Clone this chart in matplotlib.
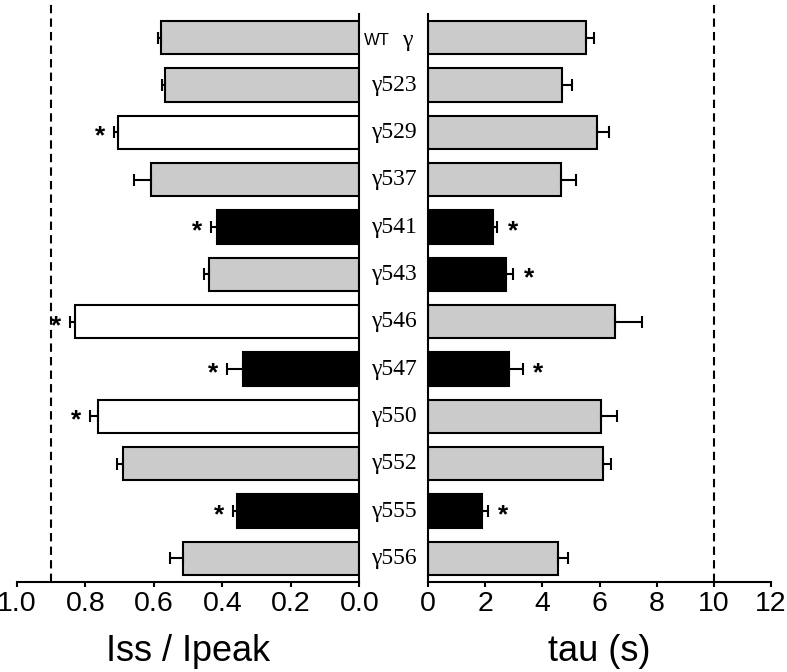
"""Iss/Ipeak and tau for gamma-subunit mutants, as mirrored bar charts."""

import matplotlib
import matplotlib.pyplot as plt
import matplotlib.transforms as mtransforms

matplotlib.use("Agg")

plt.rcParams["font.family"] = ["Liberation Sans", "DejaVu Sans"]

labels = ["WT γ", "γ523", "γ529", "γ537", "γ541", "γ543", "γ546",
          "γ547", "γ550", "γ552", "γ555", "γ556"]

iss_ratio = [0.579, 0.567, 0.706, 0.608, 0.417, 0.438, 0.831,
             0.339, 0.762, 0.689, 0.356, 0.514]
iss_err = [0.010, 0.010, 0.012, 0.050, 0.017, 0.015, 0.015,
           0.048, 0.026, 0.019, 0.012, 0.039]
iss_kind = ["g", "g", "w", "g", "k", "g", "w", "k", "w", "g", "k", "g"]
iss_star = [False, False, True, False, True, False, True,
            True, True, False, True, False]

tau = [5.52, 4.70, 5.92, 4.66, 2.28, 2.72, 6.55,
       2.82, 6.06, 6.12, 1.88, 4.55]
tau_err = [0.27, 0.35, 0.42, 0.53, 0.14, 0.26, 0.93,
           0.49, 0.56, 0.27, 0.20, 0.33]
tau_kind = ["g", "g", "g", "g", "k", "k", "g", "k", "g", "g", "k", "g"]
tau_star = [False, False, False, False, True, True, False,
            True, False, False, True, False]

iss_cutoff = 0.9
tau_cutoff = 10

COLORS = {"g": "#cbcbcb", "w": "white", "k": "black"}

W, H = 787, 672
fig = plt.figure(figsize=(W / 100, H / 100), dpi=100)
ax_l = fig.add_axes([17 / W, 90 / H, 342.3 / W, 568 / H])
ax_r = fig.add_axes([428.3 / W, 90 / H, 342.4 / W, 568 / H])

ypos = list(range(len(labels)))


def draw_panel(ax, values, errs, kinds, stars, cutoff, star_dx):
    colors = [COLORS[k] for k in kinds]
    ax.barh(ypos, values, height=0.7, color=colors, edgecolor="black",
            linewidth=1.5, zorder=2)
    ax.errorbar(values, ypos, xerr=[[0] * len(errs), errs], fmt="none",
                ecolor="black", elinewidth=1.5, capsize=4, capthick=1.5,
                zorder=3)
    for y, v, e, s in zip(ypos, values, errs, stars):
        if s:
            ax.annotate("*", (v + e, y), xytext=(star_dx, -3),
                        textcoords="offset points", ha="center",
                        va="center", fontsize=19, fontweight="bold")
    ax.axvline(cutoff, ymin=0, ymax=1.025, color="black", lw=1.5,
               dashes=(4, 2.5), clip_on=False, zorder=1)
    ax.set_ylim(11.5, -0.5)
    ax.set_yticks([])
    ax.tick_params(axis="x", direction="out", length=3.6, width=1.5,
                   pad=3, labelsize=20.5)
    for sp in ax.spines.values():
        sp.set_linewidth(1.5)
    ax.spines["top"].set_visible(False)


draw_panel(ax_l, iss_ratio, iss_err, iss_kind, iss_star, iss_cutoff, -10)
ax_l.set_xlim(1.0, 0.0)
ax_l.set_xticks([1.0, 0.8, 0.6, 0.4, 0.2, 0.0])
ax_l.set_xticklabels(["1.0", "0.8", "0.6", "0.4", "0.2", "0.0"])
ax_l.spines["left"].set_visible(False)
ax_l.set_xlabel("Iss / Ipeak", fontsize=26, labelpad=12)

draw_panel(ax_r, tau, tau_err, tau_kind, tau_star, tau_cutoff, 11)
ax_r.set_xlim(0, 12)
ax_r.set_xticks(range(0, 13, 2))
ax_r.spines["right"].set_visible(False)
ax_r.set_xlabel("tau (s)", fontsize=26, labelpad=12)

# mutant names in the gap between the two panels
trans = mtransforms.blended_transform_factory(fig.transFigure, ax_l.transData)
xc = 394 / W
for y, lab in zip(ypos, labels):
    if lab.startswith("WT"):
        ax_l.text(390 / W, y + 0.07, "WT", transform=trans, ha="right",
                  va="center", fontsize=12, clip_on=False)
        ax_l.text(402 / W, y + 0.05, "γ", transform=trans, ha="left",
                  va="center", fontsize=17, family="Liberation Serif",
                  clip_on=False)
    else:
        ax_l.text(xc, y, lab, transform=trans, ha="center", va="center",
                  fontsize=17, family="Liberation Serif", clip_on=False)

fig.savefig("out.png", dpi=100)
